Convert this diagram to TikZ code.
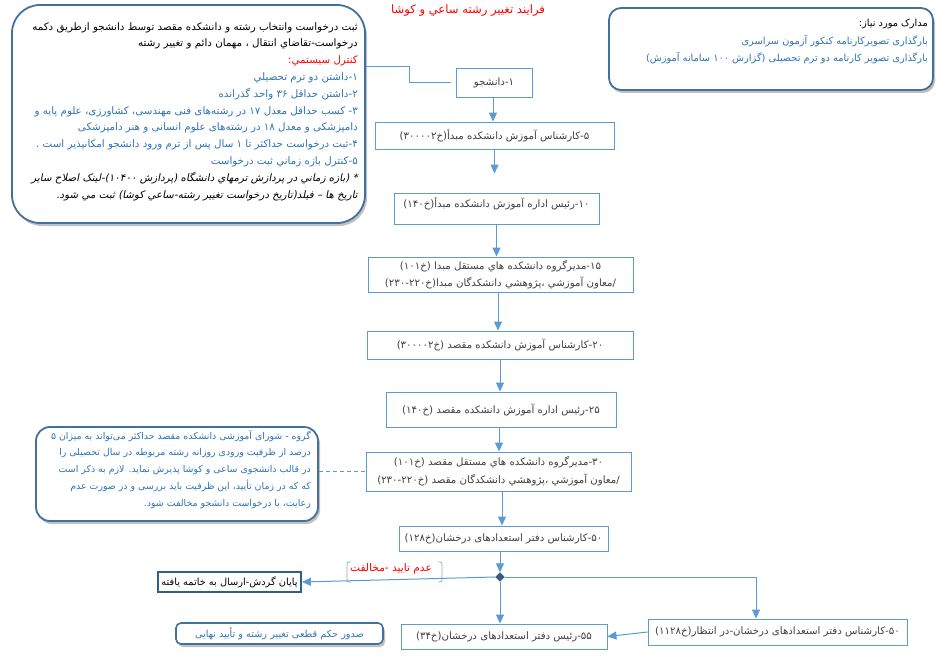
\documentclass[tikz,border=0pt]{standalone}
\usepackage{fontspec}
\usetikzlibrary{arrows.meta,shapes.geometric,shadows,calc}
\TeXXeTstate=1
\newfontfamily\arabicfont[Script=Arabic]{DejaVu Sans}
\newfontfamily\arabicslant[Script=Arabic,FakeSlant=0.2]{DejaVu Sans}
\newcommand{\fatxt}[1]{\beginR #1\endR}
\definecolor{boxblue}{HTML}{5B9BD5}
\definecolor{callborder}{HTML}{41719C}
\definecolor{textblue}{HTML}{2E74B5}
\definecolor{boxtext}{HTML}{404040}
\definecolor{diamondc}{HTML}{3E5A7A}
\definecolor{endborder}{HTML}{2F5F8A}
\definecolor{bracketc}{HTML}{8EA9C1}
\tikzset{
  box/.style={draw=boxblue, line width=0.9pt, fill=white, text=boxtext,
    font=\arabicfont\fontsize{10.2}{17}\selectfont, inner sep=1pt, align=center},
  arr/.style={draw=boxblue, line width=1pt, -{Triangle[width=8pt,length=9pt]}},
  conn/.style={draw=boxblue, line width=0.9pt},
  callout/.style={draw=callborder, line width=1.8pt, fill=white,
    drop shadow={opacity=0.35, shadow xshift=2pt, shadow yshift=-3pt, fill=black!70}},
  calltext/.style={align=right, inner sep=0pt, font=\arabicfont\fontsize{10.3}{16.8}\selectfont}
}
\begin{document}
\begin{tikzpicture}[x=1pt,y=-1pt]
\useasboundingbox (0,0) rectangle (941,655);

% title
\node[text=red, font=\arabicfont\fontsize{11.6}{13}\selectfont] (title) at (468,11) {\fatxt{فرایند تغییر رشته ساعي و کوشا}};

% top-left callout
\node[callout, rounded corners=28pt, minimum width=353pt, minimum height=218pt] (tl) at (188.5,114) {};
\node[calltext, anchor=north east] (tltext) at (358,22) {%
\textcolor{black}{\fatxt{ثبت درخواست  وانتخاب رشته و دانشکده مقصد توسط دانشجو ازطریق دکمه}}\\
\textcolor{black}{\fatxt{درخواست-تقاضاي انتقال ، مهمان دائم و تغییر رشته}}\\
\textcolor{red}{\fatxt{کنترل سیستمي:}}\\
\textcolor{textblue}{\fatxt{۱-داشتن دو ترم تحصیلي}}\\
\textcolor{textblue}{\fatxt{۲-داشتن حداقل ۳۶ واحد گذرانده}}\\
\textcolor{textblue}{\fatxt{۳- کسب حداقل معدل ۱۷ در رشته‌های فنی مهندسی، کشاورزی، علوم پایه و}}\\
\textcolor{textblue}{\fatxt{دامپزشکی و معدل ۱۸ در رشته‌های علوم انسانی و هنر دامپزشکی}}\\
\textcolor{textblue}{\fatxt{۴-ثبت درخواست حداکثر تا ۱ سال پس از ترم ورود دانشجو امکانپذیر است .}}\\
\textcolor{textblue}{\fatxt{۵-کنترل بازه زماني ثبت درخواست}}\\
\textcolor{black}{\arabicslant\fatxt{* (بازه زماني در پردازش ترمهاي دانشگاه (پردازش ۱۰۴۰۰)-لینک اصلاح سایر}}\\
\textcolor{black}{\arabicslant\fatxt{تاریخ ها – فیلد(تاریخ درخواست تغییر رشته-ساعي کوشا) ثبت مي شود.}}};

% top-right callout
\node[callout, rounded corners=12pt, minimum width=324pt, minimum height=82pt] (tr) at (771,49) {};
\node[calltext, anchor=north east, font=\arabicfont\fontsize{9.8}{17.5}\selectfont] (trtext) at (928,19) {%
\textcolor{black}{\fatxt{مدارک مورد نیاز:}}\\
\textcolor{textblue}{\fatxt{بارگذاری تصویرکارنامه کنکور آزمون سراسری}}\\
\textcolor{textblue}{\fatxt{بارگذاری تصویر کارنامه دو ترم تحصیلی (گزارش ۱۰۰ سامانه آموزش)}}};

% bottom-left callout
\node[callout, rounded corners=14pt, minimum width=282pt, minimum height=94pt] (bl) at (177,474) {};
\node[calltext, anchor=north east, text=textblue, font=\arabicfont\fontsize{9.4}{16.9}\selectfont] (bltext) at (311,430) {%
\fatxt{گروه - شورای  آموزشی دانشکده مقصد حداکثر می‌تواند به میزان ۵}\\
\fatxt{درصد از ظرفیت ورودی روزانه رشته مربوطه در سال تحصیلی را}\\
\fatxt{در قالب دانشجوی ساعی و کوشا پذیرش نماید. لازم به ذکر است}\\
\fatxt{که که در زمان تأیید، این ظرفیت باید بررسی و در صورت عدم}\\
\fatxt{رعایت، با درخواست دانشجو مخالفت شود.}};

% flow boxes
\node[box, minimum width=76pt, minimum height=29pt] (b1) at (494,82.5) {\fatxt{۱-دانشجو}};
\node[box, minimum width=239pt, minimum height=27pt] (b5) at (494.5,135.5) {\fatxt{۵-کارشناس آموزش دانشکده مبدأ(خ۳۰۰۰۰۲)}};
\node[box, minimum width=205pt, minimum height=31pt, text depth=12pt] (b10) at (496.5,208.5) {\fatxt{۱۰-رئیس اداره آموزش دانشکده مبدأ(خ۱۴۰)}};
\node[box, minimum width=265pt, minimum height=35pt] (b15) at (500.5,274.5) {\fatxt{۱۵-مدیرگروه دانشکده هاي مستقل مبدا (خ۱۰۱)}\\\fatxt{/معاون آموزشي ،پژوهشي دانشکدگان مبدا(خ۲۲۰-۲۳۰)}};
\node[box, minimum width=266pt, minimum height=28pt] (b20) at (500,345) {\fatxt{۲۰-کارشناس آموزش دانشکده مقصد (خ۳۰۰۰۰۲)}};
\node[box, minimum width=230pt, minimum height=35pt] (b25) at (501,409.5) {\fatxt{۲۵-رئیس اداره آموزش دانشکده مقصد (خ۱۴۰)}};
\node[box, minimum width=265pt, minimum height=39pt] (b30) at (498.5,471.5) {\fatxt{۳۰-مدیرگروه دانشکده هاي مستقل مقصد (خ۱۰۱)}\\[1pt]\fatxt{/معاون آموزشي ،پژوهشي دانشکدگان مقصد (خ۲۲۰-۲۳۰)}};
\node[box, minimum width=209pt, minimum height=25pt] (b50a) at (503.5,538.5) {\fatxt{۵۰-کارشناس دفتر استعدادهای درخشان(خ۱۲۸)}};
\node[diamond, fill=diamondc, draw=diamondc, inner sep=0pt, minimum width=9pt, minimum height=9pt] (d) at (500,577) {};
\node[box, draw=endborder, line width=1.8pt, minimum width=143pt, minimum height=20pt, text=black, font=\arabicfont\fontsize{9.8}{12}\selectfont] (bend) at (229.5,582) {\fatxt{پایان گردش-ارسال به خاتمه یافته}};
\node[box, minimum width=259pt, minimum height=26pt] (b50b) at (777.5,632) {\fatxt{۵۰-کارشناس دفتر استعدادهای درخشان-در انتظار(خ۱۱۲۸)}};
\node[box, minimum width=206pt, minimum height=25pt] (b55) at (504,636.5) {\fatxt{۵۵-رئیس دفتر استعدادهای درخشان(خ۳۴)}};
\node[callout, line width=1.6pt, rounded corners=5pt, minimum width=207pt, minimum height=21pt, text=textblue, font=\arabicfont\fontsize{9.7}{12}\selectfont, inner sep=1pt] (final) at (279.5,633.5) {\fatxt{صدور حکم قطعی تغییر رشته و تأیید نهایی}};

% label with brackets
\node[text=red, font=\arabicfont\fontsize{10.6}{12}\selectfont, inner sep=1pt] (lbl) at (391,569) {\fatxt{عدم تایید -مخالفت}};
\draw[bracketc, line width=0.8pt] (351,562) .. controls (347,562) .. (347,566) -- (347,578) .. controls (347,582) .. (351,582);
\draw[bracketc, line width=0.8pt] (438,562) .. controls (442,562) .. (442,566) -- (442,578) .. controls (442,582) .. (438,582);

% connectors
\draw[conn] (tl.east |- 0,66) -- (409,66) |- ([xshift=-5pt]b1.west);
\draw[conn, dash pattern=on 4pt off 3pt] (bl.east |- b30) -- (b30.west);
\draw[arr] (b1.south -| 493,0) -- (b5.north -| 493,0);
\draw[arr, shorten >=19pt] (b5.south) -- (b5.south |- b10.north);
\draw[arr] (b10.south) -- (b10.south |- b15.north);
\draw[arr] (b15.south -| 498,0) -- (b20.north -| 498,0);
\draw[arr] (b20.south) -- (b20.south |- b25.north);
\draw[arr] (b25.south -| 499,0) -- (b30.north -| 499,0);
\draw[arr] (b30.south -| 502,0) -- (b50a.north -| 502,0);
\draw[arr] (b50a.south -| d) -- (d.north);
\draw[arr] (d.west) -- (bend.east);
\draw[arr] (d.east) -| ([xshift=-21.5pt]b50b.north);
\draw[arr] (d.south) -- (d.south |- b55.north);
\draw[arr] (b50b.west) -- (b55.east);
\end{tikzpicture}
\end{document}
